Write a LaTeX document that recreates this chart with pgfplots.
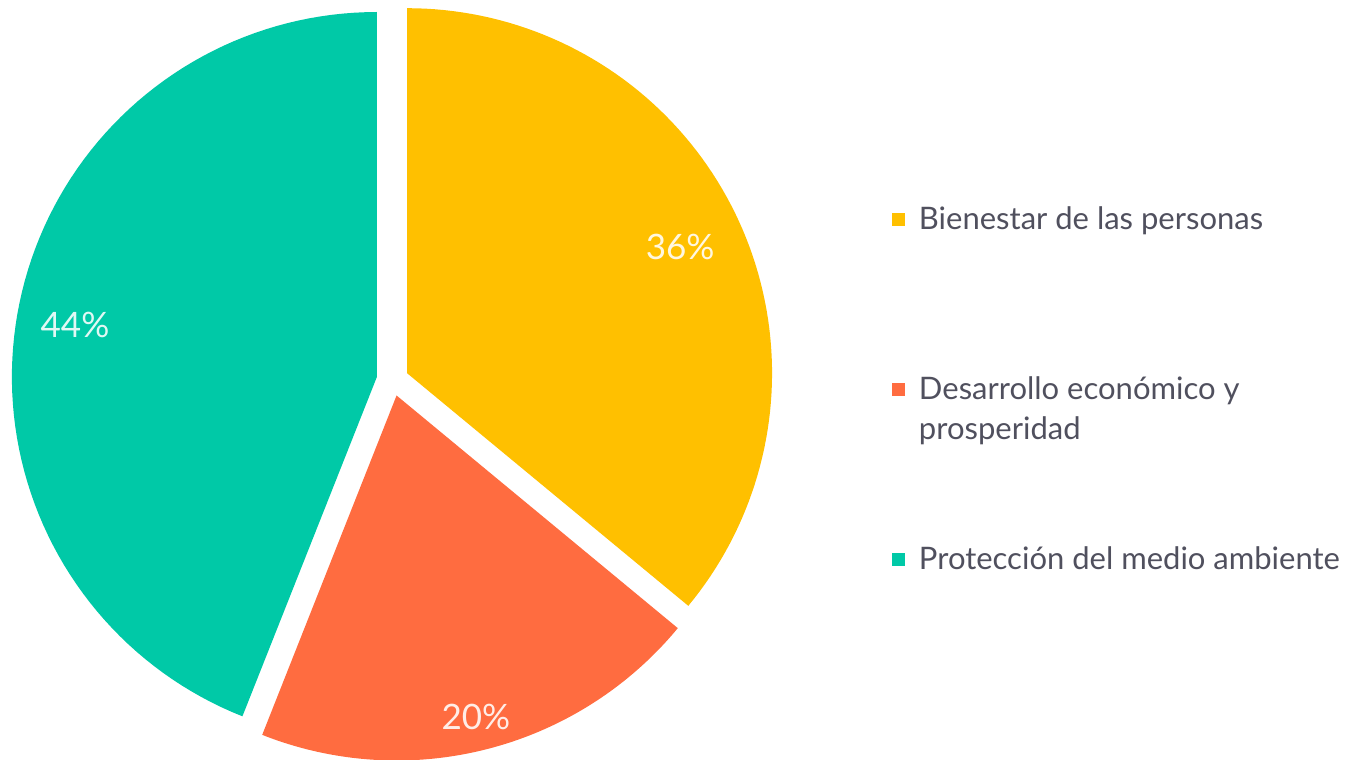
\documentclass[border=0pt]{standalone}
\usepackage{fontspec}
\setmainfont{Lato}
\usepackage{pgfplots}
\pgfplotsset{compat=1.18}
\usepgfplotslibrary{polar}
\definecolor{cYel}{HTML}{FFC000}
\definecolor{cOra}{HTML}{FF6C40}
\definecolor{cTeal}{HTML}{00C9A7}
\definecolor{cTxt}{HTML}{50505E}

\begin{document}
\begin{tikzpicture}
% 1px of the reference = 0.5pt
\path[use as bounding box] (0,0) rectangle (675.5pt,380pt);
\begin{polaraxis}[
    at={(196.3pt,190pt)}, anchor=origin,
    scale only axis, width=365pt, height=365pt,
    hide axis, clip=false,
    xmin=0, xmax=360, ymin=0, ymax=1,
    samples=90,
    legend style={draw=none, fill=none, inner sep=0pt, outer sep=0pt,
      at={(1.1841,0.7425)}, anchor=north west,
      font=\fontsize{15.5}{19.5}\selectfont, text=cTxt,
      row sep=68pt, column sep=5pt,
      cells={anchor=base west, inner sep=0pt}},
    legend image code/.code={\fill[#1,draw=none] (0pt,1.75pt) rectangle (6.5pt,8.25pt);},
  ]
  % shares in percent: 36, 20, 44 (clockwise from the top)
  \addplot[fill=cYel, draw=none, forget plot, shift={(7.24pt,3.41pt)},
    domain={90-3.6*36}:90] {1} -- (axis cs:0,0) -- cycle;
  \addplot[fill=cOra, draw=none, forget plot, shift={(1.99pt,-7.75pt)},
    domain={90-3.6*56}:{90-3.6*36}] {1} -- (axis cs:0,0) -- cycle;
  \addplot[fill=cTeal, draw=none, forget plot, shift={(-7.86pt,1.50pt)},
    domain={90-3.6*100}:{90-3.6*56}] {1} -- (axis cs:0,0) -- cycle;

  \addlegendimage{fill=cYel}
  \addlegendentry{\rule[-5pt]{0pt}{16pt}Bienestar de las personas}
  \addlegendimage{fill=cOra}
  \addlegendentry{\rule[-5pt]{0pt}{16pt}\rlap{\raisebox{-20pt}[0pt][0pt]{prosperidad}}Desarrollo económico y}
  \addlegendimage{fill=cTeal}
  \addlegendentry{\rule[-5pt]{0pt}{16pt}Protección del medio ambiente}

  \node[font=\fontsize{17.5}{20}\selectfont, text=white, text opacity=0.88] at (axis cs:24.8,0.868) {36\%};
  \node[font=\fontsize{17.5}{20}\selectfont, text=white, text opacity=0.88] at (axis cs:-76.1,0.951) {20\%};
  \node[font=\fontsize{17.5}{20}\selectfont, text=white, text opacity=0.88] at (axis cs:170.2,0.883) {44\%};
\end{polaraxis}
\end{tikzpicture}
\end{document}
